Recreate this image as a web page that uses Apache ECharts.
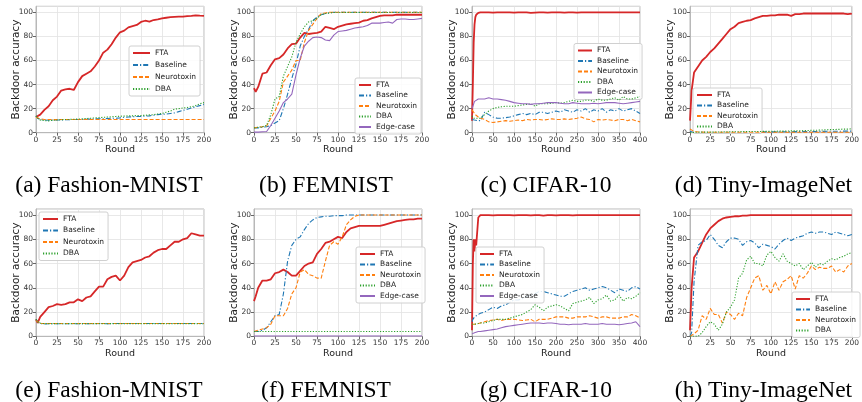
<!DOCTYPE html>
<html>
<head>
<meta charset="utf-8">
<script src="https://cdn.jsdelivr.net/npm/echarts@6/dist/echarts.min.js"></script>
<style>
html, body { margin: 0; padding: 0; background: #fff; }
#chart { width: 862px; height: 402px; }
</style>
</head>
<body>
<div id="chart"></div>
<script>
// x values (communication rounds)
const rounds200 = [0, 2, 5, 10, 15, 20, 25, 30, 35, 40, 45, 50,
  55, 60, 65, 70, 75, 80, 85, 90, 95, 100,
  105, 110, 115, 120, 125, 130, 135, 140, 145, 150,
  155, 160, 165, 170, 175, 180, 185, 190, 195, 200]
const rounds400 = [0, 2, 4, 6, 8, 10, 15, 20,
  30, 40, 50, 60, 70, 80, 90, 100, 110, 120,
  130, 140, 150, 160, 170, 180, 190, 200, 210, 220,
  230, 240, 250, 260, 270, 280, 290, 300, 310, 320,
  330, 340, 350, 360, 370, 380, 390, 400]

const methods = ['FTA', 'Baseline', 'Neurotoxin', 'DBA', 'Edge-case']
const yTicks = [0, 20, 40, 60, 80, 100]
const captions = ['(a) Fashion-MNIST', '(b) FEMNIST', '(c) CIFAR-10', '(d) Tiny-ImageNet',
  '(e) Fashion-MNIST', '(f) FEMNIST', '(g) CIFAR-10', '(h) Tiny-ImageNet']

// (a) Fashion-MNIST
const fmnistFTA = [13, 14, 15, 19, 22, 27, 30, 35, 36, 36.5, 35.5, 42,
  47, 49, 51, 55, 60, 66.5, 69, 73.5, 79, 83.4,
  84.8, 87.5, 88.6, 89.5, 92, 93, 92.2, 93.6, 94.2, 95,
  95.5, 96, 96.2, 96.4, 96.5, 96.8, 97, 97.5, 97.2, 97]
const fmnistBase = [14, 12, 11, 10.5, 10.3, 10.5, 10.5, 10.6, 10.7, 10.8, 11, 11,
  11, 11.2, 11.3, 11.5, 11.6, 11.6, 11.8, 12, 12, 12.3,
  12.8, 13, 13.2, 13.5, 13.5, 13.8, 14, 14.5, 15, 15.3,
  15.5, 16, 16.5, 17.5, 18.5, 19.5, 20.5, 21.5, 22.5, 23.5]
const fmnistNeuro = [13, 12, 11.5, 11, 11, 10.9, 10.9, 11, 11, 11, 11, 11,
  11, 11, 11, 11, 11, 11, 11, 11, 11, 11,
  11, 11, 11, 11, 11, 11, 11, 11, 11, 11,
  11, 11, 11, 11, 11, 11, 11, 11, 11, 11]
const fmnistDBA = [14, 12, 10.5, 10, 9.8, 10.3, 10.5, 10.8, 11, 11, 11.2, 11.3,
  11.5, 11.8, 12, 12.3, 12.5, 12.8, 13, 13.2, 13.5, 13.7,
  13.8, 14, 14, 14.2, 14.3, 14.5, 14.8, 15, 15.5, 16,
  17, 18, 19.5, 20, 20.5, 21, 21.5, 22.5, 24, 25]

// (b) FEMNIST
const femnistFTA = [37, 34, 38, 49, 50, 56, 61, 62, 65, 70, 73.5, 74,
  79, 83, 82, 82.5, 83, 84, 88, 87, 86, 88,
  89, 90, 90.5, 91, 91.5, 93, 93.5, 95, 96, 97,
  97.5, 97.5, 97.5, 98, 98, 98, 98, 98, 98, 98]
const femnistBase = [4, 4, 4, 4.5, 5, 6, 8, 10, 20, 32, 45, 57,
  72, 80, 86, 93, 96, 98, 99, 99.5, 100, 100,
  100, 100, 100, 100, 100, 100, 100, 100, 100, 100,
  100, 100, 100, 100, 100, 100, 100, 100, 100, 100]
const femnistNeuro = [4, 4, 4.5, 5, 5.5, 12, 18, 26, 42, 47, 52, 60,
  60, 75, 85, 90, 95, 99, 99.5, 100, 100, 100,
  100, 100, 100, 100, 100, 100, 100, 100, 100, 100,
  100, 100, 100, 100, 100, 100, 100, 100, 100, 100]
const femnistDBA = [4, 4, 4.5, 5, 6, 15, 28, 30, 47, 55, 63, 75,
  82, 88, 92, 93, 95, 98, 99, 99.5, 99.8, 99.8,
  99.8, 99.8, 99.8, 99.8, 99.8, 99.8, 99.8, 99.8, 99.8, 99.8,
  99.8, 99.8, 99.8, 99.8, 99.8, 99.8, 99.8, 99.8, 99.8, 99.8]
const femnistEdge = [0.5, 0.5, 0.5, 0.8, 1, 6, 12, 18, 25, 28, 32, 48,
  62, 72, 76, 79, 79.5, 79, 77, 76.5, 81, 84,
  84.5, 85, 86, 87, 87.5, 88, 89, 91, 91, 91,
  91.5, 92, 91, 94, 94.5, 94.5, 94, 94, 94.5, 95]

// (c) CIFAR-10
const cifarFTA = [10, 40, 75, 90, 96, 98, 99.5, 100,
  100, 100, 99.8, 100, 100, 100, 100, 99.8, 100, 100,
  100, 99.6, 99.8, 100, 100, 99.8, 100, 100, 100, 99.7,
  100, 100, 99.8, 100, 100, 100, 100, 100, 100, 100,
  100, 100, 100, 100, 100, 100, 100, 100]
const cifarBase = [11, 12, 11, 10.5, 10, 10, 10, 10,
  17, 15, 13, 12, 12, 12.5, 13, 14, 15, 16,
  15, 16, 15, 17, 17, 16, 17, 18, 17, 19,
  18, 17, 19, 18, 20, 17, 19, 18, 20, 17,
  19, 18, 20, 18, 19, 20, 18, 16]
const cifarNeuro = [19, 18, 17, 16, 15, 15, 13, 12,
  11, 9, 8.5, 9, 9.5, 10, 9.5, 10, 10.5, 10,
  11, 10.5, 11, 11, 10.5, 11, 11.5, 11, 11, 11.5,
  11, 11.5, 12, 13, 11.5, 11, 9, 11, 10.5, 11,
  10.5, 10, 11, 11, 10, 11, 10, 9]
const cifarDBA = [14, 13, 12, 12, 12, 12, 12, 12,
  15, 18, 20, 21, 21.5, 22, 22, 22, 22.5, 23,
  23.5, 24, 22, 24, 24, 24, 24.5, 25, 24.5, 25,
  26, 27, 26, 26, 27, 27, 26, 28, 27, 27,
  28, 29, 27, 30, 28, 28, 29, 30]
const cifarEdge = [20, 22, 24, 26, 27, 27, 28, 28,
  28, 29, 28, 28, 27.5, 27, 26, 25, 24.5, 24,
  24, 23.5, 24, 24, 24.5, 25, 25, 25, 24.5, 24,
  24, 25, 24.5, 24, 24, 24, 24.5, 24, 24.5, 25,
  25, 25, 24.5, 24, 24.5, 25, 25.5, 26]

// (d) Tiny-ImageNet
const tinyFTA = [10, 35, 50, 55, 60, 63, 67, 70, 74, 78, 82, 86,
  88, 91, 92, 93, 93.5, 95, 96, 97, 97, 97.5,
  97.5, 98, 98, 98, 97, 98.5, 98.5, 99, 99, 99,
  99, 99, 99, 99, 99, 99, 99, 99, 98.5, 99]
const tinyBase = [1, 0.8, 0.6, 0.5, 0.5, 0.5, 0.5, 0.5, 0.5, 0.5, 0.5, 0.5,
  0.5, 0.5, 0.6, 0.6, 0.6, 0.6, 0.6, 0.7, 0.7, 0.7,
  0.7, 0.8, 0.8, 0.8, 0.8, 0.9, 0.9, 1, 1, 1,
  1, 1.1, 1.1, 1.2, 1.2, 1.2, 1.2, 1.3, 1.3, 1.3]
const tinyNeuro = [3, 2, 1, 0.6, 0.5, 0.4, 0.4, 0.4, 0.4, 0.4, 0.4, 0.4,
  0.4, 0.4, 0.4, 0.4, 0.4, 0.4, 0.4, 0.4, 0.4, 0.4,
  0.4, 0.4, 0.4, 0.4, 0.4, 0.4, 0.4, 0.4, 0.4, 0.4,
  0.4, 0.4, 0.4, 0.4, 0.4, 0.4, 0.4, 0.4, 0.4, 0.4]
const tinyDBA = [0, 0.2, 0.3, 0.4, 0.5, 0.5, 0.5, 0.5, 0.6, 0.6, 0.7, 0.7,
  0.8, 0.8, 0.9, 0.9, 1, 1, 1, 1.1, 1.1, 1.2,
  1.2, 1.3, 1.3, 1.4, 1.5, 1.5, 1.6, 1.7, 1.8, 2,
  2, 2.2, 2.3, 2.5, 2.6, 2.7, 2.8, 3, 3, 3.2]

// (e) Fashion-MNIST
const fmnist2FTA = [14, 11, 16, 20, 24, 25, 26.5, 26, 26.5, 28, 28, 30.5,
  29, 32, 33, 37, 41, 41, 47, 49, 50, 46,
  50, 57, 61, 62, 63, 65, 66, 69, 71, 72,
  72, 75, 78, 78, 80, 81, 85, 84, 83, 83]
const fmnist2Base = [14, 12, 10.5, 10.2, 10.3, 10.4, 10.3, 10.4, 10.5, 10.4, 10.3, 10.4,
  10.5, 10.4, 10.5, 10.4, 10.5, 10.5, 10.4, 10.5, 10.6, 10.5,
  10.5, 10.6, 10.5, 10.6, 10.5, 10.6, 10.5, 10.6, 10.5, 10.6,
  10.5, 10.6, 10.5, 10.6, 10.5, 10.6, 10.5, 10.6, 10.5, 10.5]
const fmnist2Neuro = [13, 11.5, 10.6, 10.5, 10.5, 10.6, 10.5, 10.5, 10.6, 10.5, 10.5, 10.6,
  10.5, 10.5, 10.6, 10.5, 10.6, 10.5, 10.6, 10.5, 10.6, 10.5,
  10.6, 10.5, 10.6, 10.5, 10.6, 10.5, 10.6, 10.5, 10.6, 10.5,
  10.6, 10.5, 10.6, 10.5, 10.6, 10.5, 10.6, 10.5, 10.6, 10.5]
const fmnist2DBA = [14, 12, 10.8, 10.4, 10.5, 10.4, 10.5, 10.4, 10.4, 10.5, 10.4, 10.5,
  10.4, 10.5, 10.4, 10.5, 10.4, 10.5, 10.4, 10.5, 10.4, 10.5,
  10.4, 10.5, 10.4, 10.5, 10.4, 10.5, 10.4, 10.5, 10.4, 10.5,
  10.4, 10.5, 10.4, 10.5, 10.4, 10.5, 10.4, 10.5, 10.4, 10.4]

// (f) FEMNIST
const femnist2FTA = [29, 33, 40, 46, 46, 47, 52, 53, 55, 53, 50, 50,
  54, 58, 60, 61, 68, 72, 77, 78, 80, 82,
  81, 86, 89, 90, 91, 91, 91, 91, 91, 91,
  92, 93, 94, 95, 95.5, 96, 96.5, 96.5, 97, 97]
const femnist2Base = [4, 4, 4, 5, 7, 12, 17, 18, 35, 62, 75, 80,
  82, 88, 93, 96, 98, 98.5, 99, 99, 99.5, 99.5,
  99.5, 100, 100, 100, 100, 100, 100, 100, 100, 100,
  100, 100, 100, 100, 100, 100, 100, 100, 100, 100]
const femnist2Neuro = [4, 4, 5, 6, 7, 10, 17, 17, 17, 23, 35, 40,
  53, 55, 51, 50, 48, 48, 62, 75, 78, 76,
  82, 92, 96, 99, 100, 100, 100, 100, 100, 100,
  100, 100, 100, 100, 100, 100, 100, 100, 100, 100]
const femnist2DBA = [4, 4, 4, 4, 4, 4, 4, 4, 4, 4, 4, 4,
  4, 4, 4, 4, 4, 4, 4, 4, 4, 4,
  4, 4, 4, 4, 4, 4, 4, 4, 4, 4,
  4, 4, 4, 4, 4, 4, 4, 4, 4, 4]
const femnist2Edge = [0.3, 0.3, 0.3, 0.3, 0.3, 0.3, 0.3, 0.3, 0.3, 0.3, 0.3, 0.3,
  0.3, 0.3, 0.3, 0.3, 0.3, 0.3, 0.3, 0.3, 0.3, 0.3,
  0.3, 0.3, 0.3, 0.3, 0.3, 0.3, 0.3, 0.3, 0.3, 0.3,
  0.3, 0.3, 0.3, 0.3, 0.3, 0.3, 0.3, 0.3, 0.3, 0.3]

// (g) CIFAR-10
const cifar2FTA = [5, 60, 80, 70, 80, 75, 98, 100,
  100, 100, 99.8, 100, 100, 100, 100, 99.7, 100, 100,
  100, 99.8, 100, 100, 99.6, 100, 100, 99.8, 100, 100,
  100, 99.7, 100, 100, 100, 100, 100, 100, 100, 100,
  100, 100, 100, 100, 100, 100, 100, 100]
const cifar2Base = [12, 14, 15, 16, 16, 17, 18, 19,
  20, 22, 24, 23, 25, 26, 28, 30, 30, 31,
  33, 34, 35, 37, 37, 36, 35, 34, 33, 33,
  35, 37, 38, 39, 40, 38, 39, 40, 41, 40,
  38, 36, 39, 38, 37, 40, 41, 39]
const cifar2Neuro = [10, 10, 10, 10, 10, 10, 10.5, 11,
  12, 13, 13.5, 14, 13, 14, 14, 14, 13.5, 13,
  13.5, 14, 12, 14, 14, 14, 15, 16, 16, 16,
  15, 15, 16, 16, 16, 17, 16, 15, 16, 16,
  15, 15, 15, 16, 16, 18, 17, 15]
const cifar2DBA = [10, 10, 10, 10, 10, 10, 10.5, 11,
  11, 12, 13, 14, 14, 14, 15, 16, 17, 18,
  20, 22, 26, 24, 21, 24, 25, 26, 25, 23,
  21, 27, 28, 29, 30, 32, 27, 30, 31, 34,
  29, 30, 34, 29, 32, 31, 33, 36]
const cifar2Edge = [2, 2.5, 3, 3, 3.5, 3.5, 4, 4,
  4.5, 5, 5.5, 6, 7, 8, 8.5, 9, 9.5, 10,
  10.5, 11, 11, 11, 10.5, 11, 11, 10.5, 10, 10,
  9.5, 10, 10, 10, 10.5, 10, 10, 10, 10.5, 10,
  10, 10, 9.5, 10, 10.5, 11, 12, 8]

// (h) Tiny-ImageNet
const tiny2FTA = [5, 40, 65, 70, 77, 84, 89, 92, 95, 97, 98, 98.5,
  99, 99, 99.5, 99.5, 100, 100, 100, 100, 100, 100,
  100, 100, 100, 100, 100, 100, 100, 100, 100, 100,
  100, 100, 100, 100, 100, 100, 100, 100, 100, 100]
const tiny2Base = [0, 3, 45, 75, 78, 79, 84, 80, 75, 73, 78, 81,
  81, 80, 75, 78, 79, 77, 73, 76, 75, 74,
  72, 76, 79, 81, 79, 81, 82, 83, 85, 86,
  85, 86, 86, 85, 84, 86, 85, 84, 83, 84]
const tiny2Neuro = [0, 1, 2, 5, 17, 14, 23, 18, 18, 11, 20, 18,
  14, 19, 17, 32, 40, 48, 50, 38, 42, 35,
  45, 38, 45, 47, 50, 39, 50, 48, 52, 58,
  55, 57, 56, 56, 58, 53, 55, 53, 58, 60]
const tiny2DBA = [0, 0, 0, 0, 3, 8, 12, 10, 5, 10, 20, 24,
  30, 48, 52, 63, 66, 60, 60, 58, 67, 70,
  65, 62, 68, 62, 60, 58, 60, 55, 58, 61,
  57, 60, 59, 62, 64, 63, 65, 66, 68, 69]

const panels = [
  { rounds: rounds200, lines: [fmnistFTA, fmnistBase, fmnistNeuro, fmnistDBA] },
  { rounds: rounds200, lines: [femnistFTA, femnistBase, femnistNeuro, femnistDBA, femnistEdge] },
  { rounds: rounds400, lines: [cifarFTA, cifarBase, cifarNeuro, cifarDBA, cifarEdge] },
  { rounds: rounds200, lines: [tinyFTA, tinyBase, tinyNeuro, tinyDBA] },
  { rounds: rounds200, lines: [fmnist2FTA, fmnist2Base, fmnist2Neuro, fmnist2DBA] },
  { rounds: rounds200, lines: [femnist2FTA, femnist2Base, femnist2Neuro, femnist2DBA, femnist2Edge] },
  { rounds: rounds400, lines: [cifar2FTA, cifar2Base, cifar2Neuro, cifar2DBA, cifar2Edge] },
  { rounds: rounds200, lines: [tiny2FTA, tiny2Base, tiny2Neuro, tiny2DBA] }
]

// layout
const colLeft = [36, 254, 472, 690]
const plotW = 168
const rowTop = [6.3, 209]
const rowH = [126.4, 127.3]
const captionX = [109, 326, 546, 763.5]
const captionY = [186, 391]
const legendPos = [
  { left: 129, top: 46, gap: 4, w: 17 },
  { left: 355, top: 78, gap: 2.5, w: 12 },
  { left: 574, top: 43.5, gap: 2.5, w: 14 },
  { left: 693, top: 88, gap: 2.5, w: 15 },
  { left: 39, top: 212, gap: 3.5, w: 15 },
  { left: 356, top: 247, gap: 2.5, w: 15 },
  { left: 476, top: 247, gap: 2.5, w: 14 },
  { left: 792, top: 292, gap: 2.5, w: 14 }
]
const lineStyles = {
  'FTA': { color: '#d62728', width: 1.8, type: 'solid' },
  'Baseline': { color: '#1f77b4', width: 1.1, type: [5, 2, 1.2, 2] },
  'Neurotoxin': { color: '#ff7f0e', width: 1.1, type: [4, 2] },
  'DBA': { color: '#2ca02c', width: 1.1, type: [1.2, 1.6] },
  'Edge-case': { color: '#9467bd', width: 1.1, type: 'solid' }
}
const sans = "'DejaVu Sans', sans-serif"

const grid = [], xAxis = [], yAxis = [], series = [], legend = [], graphic = []

panels.forEach((p, i) => {
  const col = i % 4
  const row = Math.floor(i / 4)
  const maxRound = p.rounds[p.rounds.length - 1]
  grid.push({
    left: colLeft[col], top: rowTop[row], width: plotW, height: rowH[row],
    show: true, borderColor: '#b8b8b8', borderWidth: 1
  })
  xAxis.push({
    type: 'value', gridIndex: i, min: 0, max: maxRound, interval: maxRound / 8,
    name: 'Round', nameLocation: 'middle', nameGap: 12,
    nameTextStyle: { fontSize: 9.5, color: '#222', fontFamily: sans },
    axisLine: { show: true, lineStyle: { color: '#b8b8b8' } },
    axisTick: { show: true, length: 3, lineStyle: { color: '#666' } },
    axisLabel: { fontSize: 7.5, color: '#333', margin: 3, fontFamily: sans },
    splitLine: { show: true, lineStyle: { color: '#e2e2e2', width: 0.8 } }
  })
  yAxis.push({
    type: 'value', gridIndex: i, min: 0, max: 105, interval: 20,
    name: 'Backdoor accuracy', nameLocation: 'middle', nameGap: 14, nameMoveOverlap: false,
    nameTextStyle: { fontSize: 10.5, color: '#222', fontFamily: sans },
    axisLine: { show: true, lineStyle: { color: '#b8b8b8' } },
    axisTick: { show: true, length: 3, lineStyle: { color: '#666' } },
    axisLabel: {
      fontSize: 7.5, color: '#333', margin: 3, fontFamily: sans, showMaxLabel: false,
      formatter: v => (yTicks.includes(v) ? String(v) : '')
    },
    splitLine: { show: true, lineStyle: { color: '#e2e2e2', width: 0.8 } }
  })
  const names = methods.slice(0, p.lines.length)
  p.lines.forEach((vals, k) => {
    const st = lineStyles[names[k]]
    series.push({
      type: 'line', name: names[k], xAxisIndex: i, yAxisIndex: i,
      data: p.rounds.map((r, j) => [r, vals[j]]),
      symbol: 'none', showSymbol: false, smooth: false,
      lineStyle: { color: st.color, width: st.width, type: st.type },
      itemStyle: { color: st.color },
      z: 2 + k
    })
  })
  const lp = legendPos[i]
  legend.push({
    data: names, left: lp.left, top: lp.top, orient: 'vertical',
    itemWidth: lp.w, itemHeight: 7, itemGap: lp.gap, padding: [3, 4, 3, 3],
    backgroundColor: 'rgba(255,255,255,0.85)', borderColor: '#d0d0d0', borderWidth: 1, borderRadius: 2,
    textStyle: { fontSize: 7.5, color: '#222', fontFamily: sans },
    itemStyle: { opacity: 0 }, selectedMode: false
  })
  graphic.push({
    type: 'text', x: captionX[col], y: captionY[row],
    style: {
      text: captions[i], font: '23.5px "Liberation Serif", "Times New Roman", serif', fill: '#000',
      align: 'center', verticalAlign: 'middle', textAlign: 'center', textVerticalAlign: 'middle'
    }
  })
})

const chart = echarts.init(document.getElementById('chart'))
chart.setOption({
  animation: false,
  backgroundColor: '#fff',
  grid, xAxis, yAxis, series, legend, graphic
})
</script>
</body>
</html>
